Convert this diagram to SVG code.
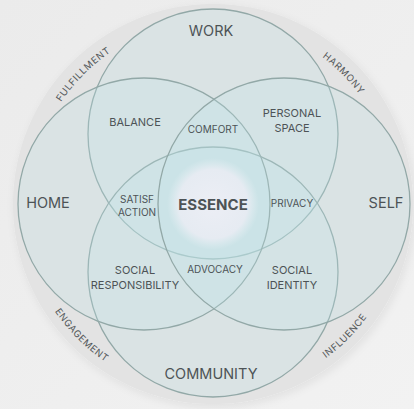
<svg xmlns="http://www.w3.org/2000/svg" width="414" height="409" viewBox="0 0 414 409">
<defs>
<linearGradient id="bg" x1="0" y1="0" x2="1" y2="1">
<stop offset="0" stop-color="#ebebeb"/>
<stop offset="1" stop-color="#f2f2f2"/>
</linearGradient>
<radialGradient id="glow" cx="0.5" cy="0.5" r="0.5">
<stop offset="0" stop-color="#eceef5"/>
<stop offset="0.75" stop-color="#e6ebf2"/>
<stop offset="1" stop-color="#e0edf1" stop-opacity="0"/>
</radialGradient>
<filter id="sh" x="-10%" y="-10%" width="120%" height="120%">
<feDropShadow dx="2" dy="3" stdDeviation="4" flood-color="#000" flood-opacity="0.07"/>
</filter>
<path id="pFul" d="M 30 204 A 183 183 0 0 1 213 21"/>
<path id="pHar" d="M 213 21 A 183 183 0 0 1 396 204"/>
<path id="pEng" d="M 22 204 A 191 191 0 0 0 213 395"/>
<path id="pInf" d="M 213 395 A 191 191 0 0 0 404 204"/>
<style>
.c{fill:rgb(192,230,234);fill-opacity:0.24;stroke:#92a8a7;stroke-width:1.3}
.t{font-family:Inter,"Noto Sans",sans-serif;fill:#4d5356;text-anchor:middle}
.big{font-size:14.5px}
.mid{font-size:11px}
.sm{font-size:10px}
.arc{font-family:Inter,"Noto Sans",sans-serif;font-size:9.5px;fill:#53585a;letter-spacing:0.6px}
</style>
</defs>
<rect width="414" height="409" fill="url(#bg)"/>
<circle cx="213" cy="204" r="200" fill="#e3e3e3" filter="url(#sh)"/>
<g id="circles">
<g id="work"><circle class="c" cx="213" cy="134" r="125"/></g>
<g id="community"><circle class="c" cx="213" cy="272" r="125"/></g>
<g id="home"><circle class="c" cx="144" cy="204" r="126"/></g>
<g id="self"><circle class="c" cx="284" cy="204" r="126"/></g>
</g>
<g id="essence"><circle cx="213" cy="204" r="46" fill="url(#glow)"/>
<text class="t" x="213" y="210" font-size="15" font-weight="700" fill="#3f4447">ESSENCE</text></g>
<g id="labels">
<text class="t big" x="211" y="36">WORK</text>
<text class="t big" x="211" y="379">COMMUNITY</text>
<text class="t big" x="48" y="208">HOME</text>
<text class="t big" x="386" y="208">SELF</text>
<text class="t mid" x="135" y="126">BALANCE</text>
<text class="t sm" x="213" y="133">COMFORT</text>
<text class="t mid" x="292" y="117">PERSONAL</text>
<text class="t mid" x="292" y="132">SPACE</text>
<text class="t sm" x="137" y="203">SATISF</text>
<text class="t sm" x="137" y="216">ACTION</text>
<text class="t sm" x="292" y="207">PRIVACY</text>
<text class="t sm" x="215" y="273">ADVOCACY</text>
<text class="t mid" x="135" y="274">SOCIAL</text>
<text class="t mid" x="135" y="289">RESPONSIBILITY</text>
<text class="t mid" x="292" y="274">SOCIAL</text>
<text class="t mid" x="292" y="289">IDENTITY</text>
</g>
<g id="arcs">
<text class="arc"><textPath href="#pFul" startOffset="50%" text-anchor="middle">FULFILLMENT</textPath></text>
<text class="arc"><textPath href="#pHar" startOffset="50%" text-anchor="middle">HARMONY</textPath></text>
<text class="arc"><textPath href="#pEng" startOffset="50%" text-anchor="middle">ENGAGEMENT</textPath></text>
<text class="arc"><textPath href="#pInf" startOffset="50%" text-anchor="middle">INFLUENCE</textPath></text>
</g>
</svg>
